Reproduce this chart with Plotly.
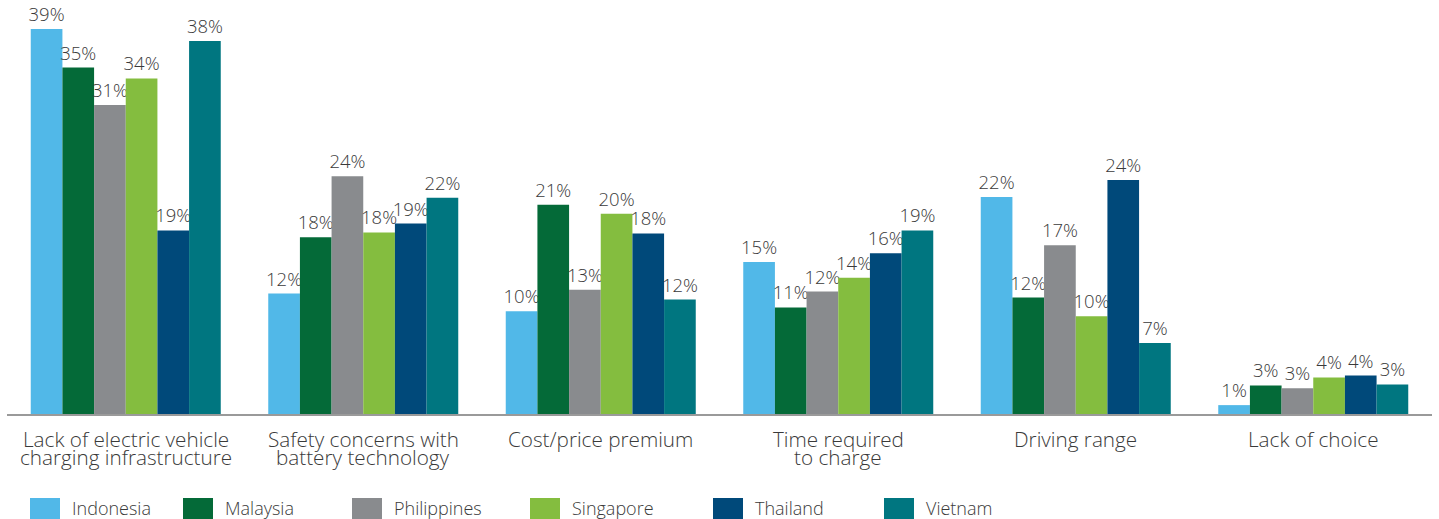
import plotly.graph_objects as go

categories = [
    "Lack of electric vehicle<br>charging infrastructure",
    "Safety concerns with<br>battery technology",
    "Cost/price premium",
    "Time required<br>to charge",
    "Driving range",
    "Lack of choice",
]
countries = ["Indonesia", "Malaysia", "Philippines", "Singapore", "Thailand", "Vietnam"]

indonesia = [39.0, 12.2, 10.4, 15.4, 22.0, 0.9]
malaysia = [35.1, 17.9, 21.2, 10.8, 11.8, 2.9]
philippines = [31.3, 24.1, 12.6, 12.4, 17.1, 2.6]
singapore = [34.0, 18.4, 20.3, 13.8, 9.9, 3.7]
thailand = [18.6, 19.3, 18.3, 16.3, 23.7, 3.9]
vietnam = [37.8, 21.9, 11.6, 18.6, 7.2, 3.0]

series = [indonesia, malaysia, philippines, singapore, thailand, vietnam]
colors = ["#51B8E8", "#046A38", "#898B8E", "#84BD3F", "#00497A", "#007680"]

FONT = "Open Sans"
TEXT_COLOR = "#3a3a3a"

W, H = 1439, 519
ML, MR, MT, MB = 7, 7, 14, 105
plot_w = W - ML - MR
plot_h = H - MT - MB

fig = go.Figure()
for name, vals, col in zip(countries, series, colors):
    fig.add_trace(go.Bar(
        name=name,
        x=categories,
        y=vals,
        marker=dict(color=col, line=dict(width=0)),
        text=[f"{v:.0f}%" for v in vals],
        textposition="outside",
        textfont=dict(family=FONT, size=18.5, color=TEXT_COLOR, weight=300),
        constraintext="none",
        cliponaxis=False,
        showlegend=False,
    ))

annotations = []
line_centers_px = [439.0, 457.0]
for cat in categories:
    for i, line in enumerate(cat.split("<br>")):
        annotations.append(dict(
            x=cat, xref="x",
            y=(H - MB - line_centers_px[i]) / plot_h, yref="paper",
            text=line, showarrow=False,
            xanchor="center", yanchor="middle",
            font=dict(family=FONT, size=20.7, color=TEXT_COLOR, weight=300),
        ))

shapes = []
legend_px = [30, 183, 352, 530, 713, 884]
sq_top, sq_bot, txt_mid = 498, 521, 508
for name, col, px in zip(countries, colors, legend_px):
    shapes.append(dict(
        type="rect", xref="paper", yref="paper",
        x0=(px - ML) / plot_w, x1=(px + 30 - ML) / plot_w,
        y0=(H - MB - sq_bot) / plot_h, y1=(H - MB - sq_top) / plot_h,
        fillcolor=col, line=dict(width=0), layer="above",
    ))
    annotations.append(dict(
        x=(px + 40 - ML) / plot_w, xref="paper",
        y=(H - MB - txt_mid) / plot_h, yref="paper",
        text=name, showarrow=False,
        xanchor="left", yanchor="middle",
        font=dict(family=FONT, size=18, color=TEXT_COLOR, weight=300),
    ))

fig.update_layout(
    width=W, height=H,
    margin=dict(l=ML, r=MR, t=MT, b=MB, pad=0),
    barmode="group",
    bargap=0.2,
    bargroupgap=0,
    plot_bgcolor="white",
    paper_bgcolor="white",
    font=dict(family=FONT, color=TEXT_COLOR),
    annotations=annotations,
    shapes=shapes,
    showlegend=False,
    xaxis=dict(
        showticklabels=False, ticks="", showgrid=False, zeroline=False,
        showline=True, linecolor="#9a9a9a", linewidth=2,
    ),
    yaxis=dict(
        range=[0, 40.53], visible=False, showgrid=False, zeroline=False,
    ),
)

fig.write_html("out.html")
